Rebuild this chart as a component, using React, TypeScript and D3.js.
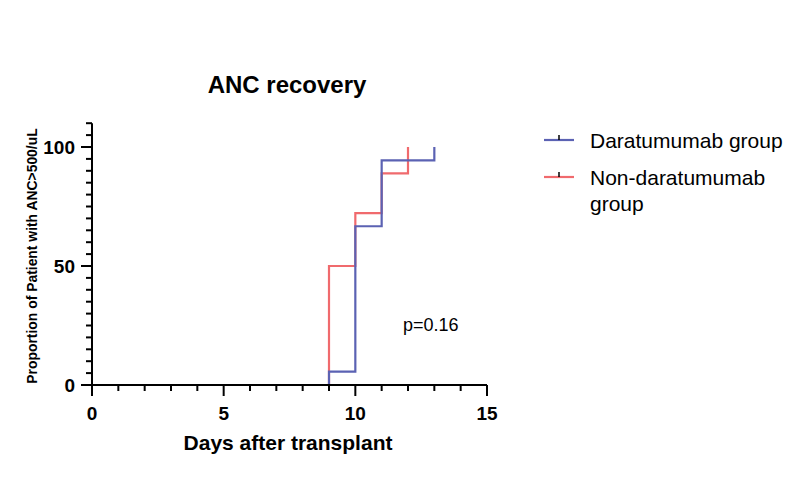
import React from "react";
import * as d3 from "d3";

const seriesNames = ["Daratumumab group", "Non-daratumumab group"];
const colors = ["#5b62b3", "#f06a6d"];
// step points: [day, proportion]
const daraDays = [9, 9, 10, 11, 13];
const daraVals = [0, 5.6, 66.7, 94.4, 100];
const nonDaraDays = [9, 9, 10, 11, 12];
const nonDaraVals = [0, 50, 72.2, 88.9, 100];
const xMajorTicks = [0, 5, 10, 15];
const yMajorTicks = [0, 50, 100];
const title = "ANC recovery";
const xTitle = "Days after transplant";
const yTitle = "Proportion of Patient with ANC>500/uL";
const pText = "p=0.16";

export default function App() {
  const W = 800, H = 486;
  const x = d3.scaleLinear().domain([0, 15]).range([92, 487]);
  const y = d3.scaleLinear().domain([0, 100]).range([385, 147]);
  const font = "'Liberation Sans', Arial, sans-serif";

  const stepLine = (days: number[], vals: number[], end: number) => {
    const pts: [number, number][] = [[0, 0]];
    days.forEach((d, i) => pts.push([d, vals[i]]));
    pts.push([end, vals[vals.length - 1]]);
    return d3.line<[number, number]>().x(p => x(p[0])).y(p => y(p[1])).curve(d3.curveStepAfter)(pts) as string;
  };

  const series = [
    { days: daraDays, vals: daraVals, c: 0 },
    { days: nonDaraDays, vals: nonDaraVals, c: 1 },
  ];
  const drawOrder = [series[1], series[0]];

  const xMinor = d3.range(0, 16, 1);
  const yMinor = d3.range(0, 111, 5);

  return (
    <svg width={W} height={H} style={{ display: "block", position: "absolute", left: 0, top: 0 }} fontFamily={font}>
      <rect width={W} height={H} fill="#fff" />
      <text x={287} y={93} textAnchor="middle" fontWeight="bold" fontSize={24}>{title}</text>
      {drawOrder.map((s) => {
        const last = s.days[s.days.length - 1];
        return (
          <path key={s.c} d={stepLine(s.days, s.vals, last)} fill="none" stroke={colors[s.c]} strokeWidth={2.2} />
        );
      })}
      {/* axes */}
      <line x1={x(0)} x2={x(15)} y1={y(0)} y2={y(0)} stroke="#000" strokeWidth={2} />
      <line x1={x(0)} x2={x(0)} y1={y(0) + 1} y2={y(110)} stroke="#000" strokeWidth={2} />
      {xMinor.map(t => {
        const major = t % 5 === 0;
        return <line key={"xt" + t} x1={x(t)} x2={x(t)} y1={y(0)} y2={y(0) + (major ? 11 : 6)} stroke="#000" strokeWidth={2} />;
      })}
      {yMinor.map(t => {
        const major = t % 50 === 0;
        return <line key={"yt" + t} x1={x(0) - (major ? 11 : 6)} x2={x(0)} y1={y(t)} y2={y(t)} stroke="#000" strokeWidth={2} />;
      })}
      {xMajorTicks.map(t => (
        <text key={"xl" + t} x={x(t)} y={420} textAnchor="middle" fontWeight="bold" fontSize={19}>{t}</text>
      ))}
      {yMajorTicks.map(t => (
        <text key={"yl" + t} x={75} y={y(t) + 7} textAnchor="end" fontWeight="bold" fontSize={19}>{t}</text>
      ))}
      <text x={288} y={450} textAnchor="middle" fontWeight="bold" fontSize={21}>{xTitle}</text>
      <text transform={`translate(37,256) rotate(-90)`} textAnchor="middle" fontWeight="bold" fontSize={13.9}>{yTitle}</text>
      <text x={403} y={331} fontSize={18}>{pText}</text>
      {/* legend */}
      {seriesNames.map((n, i) => {
        const ly = i === 0 ? 140 : 177;
        const words = i === 0 ? [n] : ["Non-daratumumab", "group"];
        return (
          <g key={"lg" + i}>
            <line x1={544} x2={574} y1={ly} y2={ly} stroke={colors[i]} strokeWidth={2.2} />
            <line x1={559} x2={559} y1={ly - 5} y2={ly} stroke="#000" strokeWidth={1.5} />
            {words.map((w, j) => (
              <text key={j} x={590} y={ly + 8 + j * 26} fontSize={21}>{w}</text>
            ))}
          </g>
        );
      })}
    </svg>
  );
}
